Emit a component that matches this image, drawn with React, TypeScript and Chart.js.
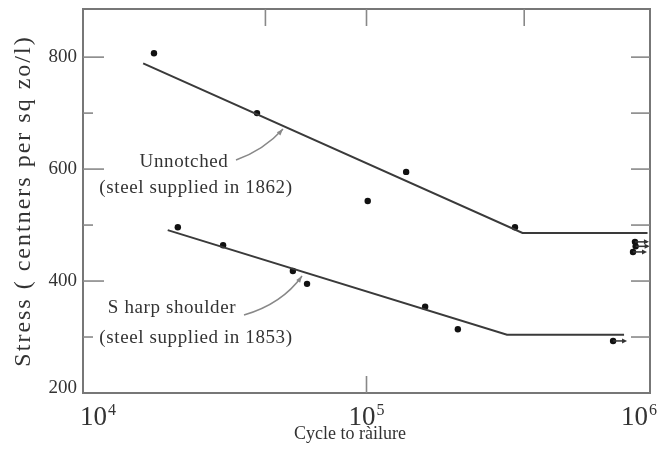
import React, { useEffect, useRef } from "react";
import { Chart, registerables } from "chart.js";

Chart.register(...registerables);

// Unnotched specimens (steel supplied in 1862)
const unnotchedCycles = [1.78e4, 4.11e4, 1.01e5, 1.38e5, 3.34e5];
const unnotchedStress = [807, 700, 543, 595, 496];
const unnotchedRunoutCycles = [8.85e5, 8.9e5, 8.71e5];
const unnotchedRunoutStress = [470, 462, 452];
const unnotchedFitCycles = [1.63e4, 3.55e5, 9.8e5];
const unnotchedFitStress = [789, 486, 486];

// Sharp shoulder specimens (steel supplied in 1853)
const shoulderCycles = [2.16e4, 3.12e4, 5.5e4, 6.17e4, 1.61e5, 2.1e5];
const shoulderStress = [496, 464, 418, 395, 354, 314];
const shoulderRunoutCycles = [7.41e5];
const shoulderRunoutStress = [293];
const shoulderFitCycles = [1.99e4, 3.13e5, 8.1e5];
const shoulderFitStress = [491, 304, 304];

// Axes
const xLabelExponents = [4, 5, 6];
const yLabelValues = [200, 400, 600, 800];
const yMinorValues = [300, 500, 700];
const xTopTickValues = [4.4e4, 1e5, 3.6e5];
const xBottomTickValues = [1e5];

const xTitle = "Cycle to ràilure";
const yTitle = "Stress ( centners per sq zo/l)";
const annotations = [
  ["Unnotched", "(steel supplied in 1862)"],
  ["S harp shoulder", "(steel supplied in 1853)"],
];

const pts = (xs: number[], ys: number[]) => xs.map((x, i) => ({ x, y: ys[i] }));

const SERIF = '"Liberation Serif", "Times New Roman", serif';

function arrow(ctx: CanvasRenderingContext2D, x0: number, y0: number, cx: number, cy: number, x1: number, y1: number) {
  ctx.beginPath();
  ctx.moveTo(x0, y0);
  ctx.quadraticCurveTo(cx, cy, x1, y1);
  ctx.stroke();
  const ang = Math.atan2(y1 - cy, x1 - cx);
  const L = 7;
  ctx.beginPath();
  ctx.moveTo(x1, y1);
  ctx.lineTo(x1 - L * Math.cos(ang - 0.35), y1 - L * Math.sin(ang - 0.35));
  ctx.lineTo(x1 - L * Math.cos(ang + 0.35), y1 - L * Math.sin(ang + 0.35));
  ctx.closePath();
  ctx.fill();
}

const decorPlugin = {
  id: "decor",
  afterDatasetsDraw(chart: any) {
    const ctx: CanvasRenderingContext2D = chart.ctx;
    const { left, right, top, bottom } = chart.chartArea;
    const xs = chart.scales.x;
    const ys = chart.scales.y;
    ctx.save();

    // run-out arrows
    ctx.strokeStyle = "#333";
    ctx.fillStyle = "#333";
    ctx.lineWidth = 1.5;
    [2, 5].forEach((di) => {
      const meta = chart.getDatasetMeta(di);
      meta.data.forEach((el: any) => {
        ctx.beginPath();
        ctx.moveTo(el.x, el.y);
        ctx.lineTo(el.x + 12, el.y);
        ctx.stroke();
        ctx.beginPath();
        ctx.moveTo(el.x + 14, el.y);
        ctx.lineTo(el.x + 9, el.y - 2.5);
        ctx.lineTo(el.x + 9, el.y + 2.5);
        ctx.closePath();
        ctx.fill();
      });
    });

    // frame
    ctx.strokeStyle = "#777";
    ctx.lineWidth = 2;
    ctx.strokeRect(left, top, right - left, bottom - top);

    // ticks
    ctx.lineWidth = 1.6;
    ctx.strokeStyle = "#888";
    const hline = (x0: number, x1: number, y: number) => {
      ctx.beginPath();
      ctx.moveTo(x0, y);
      ctx.lineTo(x1, y);
      ctx.stroke();
    };
    const vline = (x: number, y0: number, y1: number) => {
      ctx.beginPath();
      ctx.moveTo(x, y0);
      ctx.lineTo(x, y1);
      ctx.stroke();
    };
    yLabelValues.forEach((v) => {
      if (v <= ys.min) return;
      const y = ys.getPixelForValue(v);
      hline(left, left + 21, y);
      hline(right - 19, right, y);
    });
    yMinorValues.forEach((v) => {
      const y = ys.getPixelForValue(v);
      hline(left, left + 10, y);
      hline(right - 19, right, y);
    });
    xTopTickValues.forEach((v) => vline(xs.getPixelForValue(v), top, top + 17));
    xBottomTickValues.forEach((v) => vline(xs.getPixelForValue(v), bottom - 17, bottom));

    // y tick labels
    ctx.fillStyle = "#333";
    ctx.font = `19px ${SERIF}`;
    ctx.textAlign = "right";
    ctx.textBaseline = "middle";
    yLabelValues.forEach((v) => {
      const y = ys.getPixelForValue(v);
      ctx.fillText(String(v), left - 6, v === ys.min ? y - 5 : y);
    });

    // x tick labels 10^n
    xLabelExponents.forEach((e, i) => {
      const px = xs.getPixelForValue(Math.pow(10, e));
      ctx.font = `27px ${SERIF}`;
      const wBase = ctx.measureText("10").width;
      ctx.font = `16px ${SERIF}`;
      const wExp = ctx.measureText(String(e)).width;
      const total = wBase + wExp + 1;
      let x0 = px - total / 2;
      if (i === 0) x0 = px - 3;
      if (i === xLabelExponents.length - 1) x0 = px + 7 - total;
      ctx.textAlign = "left";
      ctx.textBaseline = "alphabetic";
      ctx.font = `27px ${SERIF}`;
      ctx.fillText("10", x0, bottom + 32);
      ctx.font = `16px ${SERIF}`;
      ctx.fillText(String(e), x0 + wBase + 1, bottom + 22);
    });

    // axis titles
    ctx.fillStyle = "#333";
    ctx.font = `18px ${SERIF}`;
    ctx.textAlign = "center";
    ctx.textBaseline = "alphabetic";
    ctx.fillText(xTitle, 350, bottom + 46);

    ctx.save();
    ctx.translate(24, 201);
    ctx.rotate(-Math.PI / 2);
    ctx.font = `24px ${SERIF}`;
    (ctx as any).letterSpacing = "2px";
    ctx.textBaseline = "middle";
    ctx.fillText(yTitle, 0, 0);
    (ctx as any).letterSpacing = "0px";
    ctx.restore();

    // annotations
    ctx.fillStyle = "#333";
    ctx.font = `19px ${SERIF}`;
    (ctx as any).letterSpacing = "0.6px";
    ctx.textAlign = "center";
    ctx.textBaseline = "middle";
    ctx.fillText(annotations[0][0], 184, 162);
    ctx.fillText(annotations[0][1], 196, 188);
    ctx.fillText(annotations[1][0], 172, 308);
    ctx.fillText(annotations[1][1], 196, 338);
    (ctx as any).letterSpacing = "0px";

    ctx.strokeStyle = "#888";
    ctx.fillStyle = "#888";
    ctx.lineWidth = 1.5;
    arrow(ctx, 236, 160, 264, 150, 283, 129);
    arrow(ctx, 244, 315, 282, 304, 302, 276);

    ctx.restore();
  },
};

export default function App() {
  const ref = useRef<HTMLCanvasElement | null>(null);
  useEffect(() => {
    if (!ref.current) return;
    const lineStyle = {
      showLine: true,
      borderColor: "#3a3a3a",
      borderWidth: 2,
      pointRadius: 0,
      fill: false,
    };
    const dotStyle = {
      showLine: false,
      pointRadius: 3.2,
      pointBackgroundColor: "#111",
      pointBorderColor: "#111",
      pointBorderWidth: 0,
    };
    const chart = new Chart(ref.current, {
      type: "scatter",
      data: {
        datasets: [
          { label: "Unnotched fit", data: pts(unnotchedFitCycles, unnotchedFitStress), ...lineStyle },
          { label: "Unnotched", data: pts(unnotchedCycles, unnotchedStress), ...dotStyle },
          { label: "Unnotched run-out", data: pts(unnotchedRunoutCycles, unnotchedRunoutStress), ...dotStyle },
          { label: "Sharp shoulder fit", data: pts(shoulderFitCycles, shoulderFitStress), ...lineStyle },
          { label: "Sharp shoulder", data: pts(shoulderCycles, shoulderStress), ...dotStyle },
          { label: "Sharp shoulder run-out", data: pts(shoulderRunoutCycles, shoulderRunoutStress), ...dotStyle },
        ],
      },
      options: {
        animation: false,
        responsive: false,
        maintainAspectRatio: false,
        layout: { padding: { left: 83, top: 9, right: 14, bottom: 56 } },
        plugins: { legend: { display: false }, tooltip: { enabled: false } },
        scales: {
          x: { type: "logarithmic", min: 1e4, max: 1e6, display: false },
          y: { type: "linear", min: 200, max: 886, display: false },
        },
      },
      plugins: [decorPlugin],
    });
    return () => chart.destroy();
  }, []);
  return (
    <div style={{ position: "fixed", left: 0, top: 0, width: 664, height: 449, background: "#fff" }}>
      <canvas ref={ref} width={664} height={449} style={{ display: "block", width: 664, height: 449 }} />
    </div>
  );
}
